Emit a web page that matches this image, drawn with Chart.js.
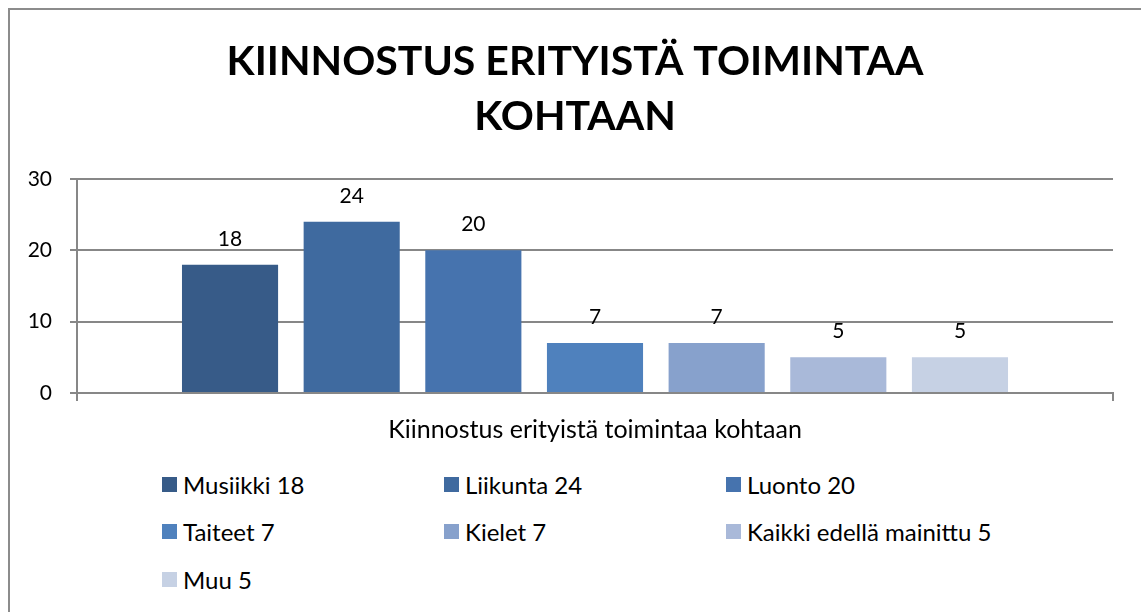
<!DOCTYPE html>
<html>
<head>
<meta charset="utf-8">
<script src="https://cdn.jsdelivr.net/npm/chart.js@4/dist/chart.umd.min.js"></script>
<style>
  body { margin: 0; background: #fff; overflow: hidden; }
  #frame { position: absolute; left: 8px; top: 8px; width: 1200px; height: 700px;
           border-left: 2px solid #8c8c8c; border-top: 2px solid #8c8c8c; }
  #chart { position: absolute; left: 0; top: 0; }
  .item { position: absolute; height: 30px; white-space: nowrap; }
  .box { position: absolute; left: 0; top: 7px; width: 15px; height: 15px; }
  .txt { position: absolute; left: 21px; top: 0; font: 24px Lato, sans-serif; color: #000;
         line-height: 30px; }
</style>
</head>
<body>
<div id="frame"></div>
<canvas id="chart" width="1150" height="459"></canvas>
<div id="legend"></div>
<script>
const titleLines = ['KIINNOSTUS ERITYISTÄ TOIMINTAA', 'KOHTAAN'];
const category = 'Kiinnostus erityistä toimintaa kohtaan';
const seriesNames = ['Musiikki', 'Liikunta', 'Luonto', 'Taiteet', 'Kielet', 'Kaikki edellä mainittu', 'Muu'];
const seriesValues = [18, 24, 20, 7, 7, 5, 5];
const seriesColors = ['#375b88', '#3f6a9f', '#4673ae', '#4f81bd', '#87a1cc', '#a9b9d9', '#c6d1e4'];
const yTicks = [0, 10, 20, 30];

const font = 'Lato, sans-serif';
const gridGray = '#878787';

// value labels above each bar
const barLabels = {
  id: 'barLabels',
  afterDatasetsDraw(chart) {
    const ctx = chart.ctx;
    ctx.save();
    ctx.font = '21px ' + font;
    ctx.fillStyle = '#000';
    ctx.textAlign = 'center';
    ctx.textBaseline = 'alphabetic';
    chart.data.datasets.forEach((ds, i) => {
      chart.getDatasetMeta(i).data.forEach((bar, j) => {
        ctx.fillText(String(ds.data[j]), bar.x, bar.y - 19);
      });
    });
    ctx.restore();
  }
};

const chart = new Chart('chart', {
  type: 'bar',
  data: {
    labels: [category],
    datasets: seriesNames.map((name, i) => ({
      label: name + ' ' + seriesValues[i],
      data: [seriesValues[i]],
      backgroundColor: seriesColors[i],
      categoryPercentage: 0.822,
      barPercentage: 0.79
    }))
  },
  options: {
    responsive: false,
    animation: false,
    devicePixelRatio: 1,
    layout: { padding: 0 },
    plugins: {
      legend: { display: false },
      tooltip: { enabled: false },
      title: {
        display: true,
        text: titleLines,
        color: '#000',
        font: { family: font, size: 41, weight: 'bold', lineHeight: 1.33 },
        padding: { top: 35, bottom: 35 }
      }
    },
    scales: {
      y: {
        min: 0,
        max: 30,
        afterFit(scale) { scale.width = 77; },
        afterBuildTicks(scale) { scale.ticks = yTicks.map(v => ({ value: v })); },
        ticks: { color: '#000', font: { family: font, size: 21 }, padding: 18 },
        grid: { color: gridGray, lineWidth: 2, tickLength: 7 },
        border: { color: gridGray, width: 2 }
      },
      // empty right-hand axis, only reserves the margin right of the plot
      yRight: {
        position: 'right',
        afterFit(scale) { scale.width = 37; },
        ticks: { display: false },
        grid: { display: false },
        border: { display: false }
      },
      x: {
        ticks: { color: '#000', font: { family: font, size: 25 }, padding: 14 },
        grid: { drawOnChartArea: false, color: gridGray, lineWidth: 2, tickLength: 8 },
        border: { color: gridGray, width: 2 }
      }
    }
  },
  plugins: [barLabels]
});

// legend in three columns, like the original
const legend = document.getElementById('legend');
const colX = [162, 444, 726];
const rowY = [470, 517, 565];
chart.data.datasets.forEach((ds, i) => {
  const item = document.createElement('div');
  item.className = 'item';
  item.style.left = colX[i % 3] + 'px';
  item.style.top = rowY[Math.floor(i / 3)] + 'px';
  const box = document.createElement('div');
  box.className = 'box';
  box.style.background = ds.backgroundColor;
  const txt = document.createElement('div');
  txt.className = 'txt';
  txt.textContent = ds.label;
  item.appendChild(box);
  item.appendChild(txt);
  legend.appendChild(item);
});
</script>
</body>
</html>
